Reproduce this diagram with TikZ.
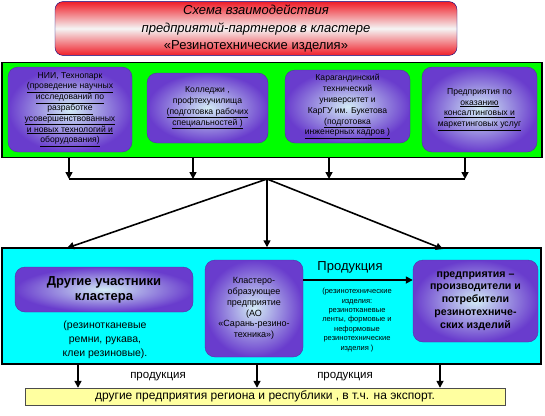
\documentclass[tikz,border=0pt]{standalone}
\usepackage{fontspec}
\setmainfont{Liberation Sans}
\usetikzlibrary{calc,positioning,arrows.meta}
\definecolor{myred}{RGB}{240,30,40}
\definecolor{mygreen}{RGB}{0,255,0}
\definecolor{mycyan}{RGB}{0,255,255}
\definecolor{mypurple}{RGB}{105,60,205}
\definecolor{mylight}{RGB}{210,235,245}
\definecolor{myyellow}{RGB}{255,255,160}
\newcommand{\undl}[1]{\underline{#1}}
\tikzset{
  partner/.style={draw=mypurple!80!black, rounded corners=10pt, shading=radial,
    inner color=mylight, outer color=mypurple, align=center, inner sep=1pt,
    font=\fontsize{8.6}{10.8}\selectfont},
  arr/.style={line width=1.6pt, -{Triangle[length=7pt,width=7pt]}},
  bar/.style={line width=1.6pt},
}
\begin{document}
\begin{tikzpicture}[x=1pt,y=-1pt]
  \useasboundingbox (0,0) rectangle (545,415);
  % Title
  \node[draw=blue!50!black, rounded corners=8pt, top color=myred, bottom color=myred,
    middle color=white!92!gray, minimum width=402pt, minimum height=53pt,
    align=center, font=\fontsize{13}{17.5}\selectfont] (title) at (256,28.5)
    {\textit{Схема взаимодействия}\\\textit{предприятий-партнеров в кластере}\\«Резинотехнические изделия»};

  % Partners
  \node[draw, line width=1.5pt, fill=mygreen, minimum width=540pt, minimum height=95pt] (green) at (272,110) {};
  \node[partner, minimum width=124pt, minimum height=85pt] (nii) at (70,109.5)
    {НИИ, Технопарк\\\undl{(проведение научных}\\\undl{исследований по}\\\undl{разработке}\\\undl{усовершенствованных}\\\undl{и новых технологий и}\\\undl{оборудования)}};
  \node[partner, minimum width=121pt, minimum height=70pt] (college) at (207.5,108)
    {Колледжи ,\\профтехучилища\\\undl{(подготовка рабочих}\\\undl{специальностей )}};
  \node[partner, minimum width=125pt, minimum height=73pt] (univ) at (347.5,106.5)
    {Карагандинский\\технический\\университет и\\КарГУ им. Букетова\\\undl{(подготовка}\\\undl{инженерных кадров )}};
  \node[partner, minimum width=115pt, minimum height=85pt] (consult) at (479.5,109.5)
    {Предприятия по\\\undl{оказанию}\\\undl{консалтинговых и}\\\undl{маркетинговых услуг}};

  % Collector
  \coordinate (s1) at (69,179);
  \coordinate (s2) at (193,179);
  \coordinate (s3) at (329,179);
  \coordinate (s4) at (465,179);
  \coordinate (hub) at (267,179);
  \foreach \s in {s1,s2,s3,s4}
    \draw[arr] (green.south -| \s) -- (\s);
  \draw[bar] (s1) -- (s4);

  % Cluster
  \node[draw, line width=1.5pt, fill=mycyan, minimum width=539pt, minimum height=116pt] (cyan) at (271.5,306) {};
  \coordinate (t1) at (67,248);
  \coordinate (t3) at (443,249);
  \draw[arr] (hub) -- (t1);
  \draw[arr] (hub) -- (cyan.north -| hub);
  \draw[arr] (hub) -- (t3);

  \node[partner, minimum width=178pt, minimum height=45pt, font=\fontsize{13}{15}\selectfont\bfseries] (other) at (104,289.5)
    {Другие участники\\кластера};
  \node[align=center, font=\fontsize{10.5}{14}\selectfont] (othernote) at (105,340)
    {(резинотканевые\\ремни, рукава,\\клеи резиновые).};
  \node[partner, minimum width=98pt, minimum height=97pt, font=\fontsize{9}{10.7}\selectfont] (core) at (254,308.5)
    {Кластеро-\\образующее\\предприятие\\(АО\\«Сарань-резино-\\техника»)};
  \node[partner, minimum width=125pt, minimum height=82pt, font=\fontsize{10.6}{12.9}\selectfont\bfseries] (users) at (475.5,301)
    {предприятия –\\производители и\\потребители\\резинотехниче-\\ских изделий};

  \coordinate (prod) at (350,280);
  \draw[arr] (core.east |- prod) -- (users.west |- prod);
  \node[font=\fontsize{13}{15}\selectfont] (prodlabel) at (350,267) {Продукция};
  \node[align=center, font=\fontsize{7.5}{9.4}\selectfont] (prodnote) at (357,320)
    {(резинотехнические\\изделия:\\резинотканевые\\ленты, формовые и\\неформовые\\резинотехнические\\изделия )};

  % Export
  \node[draw=black!70, fill=myyellow, minimum width=480pt, minimum height=17pt,
    inner sep=0pt, font=\fontsize{12}{13}\selectfont] (export) at (265,396.5)
    {другие предприятия региона и республики , в т.ч. на экспорт.};
  \foreach \x in {78,257,440}
    \draw[arr] (cyan.south -| \x,0) -- (export.north -| \x,0);
  \node[font=\fontsize{11.5}{13}\selectfont] (out1) at (158,377) {продукция};
  \node[font=\fontsize{11.5}{13}\selectfont] (out2) at (345,377) {продукция};
\end{tikzpicture}
\end{document}
